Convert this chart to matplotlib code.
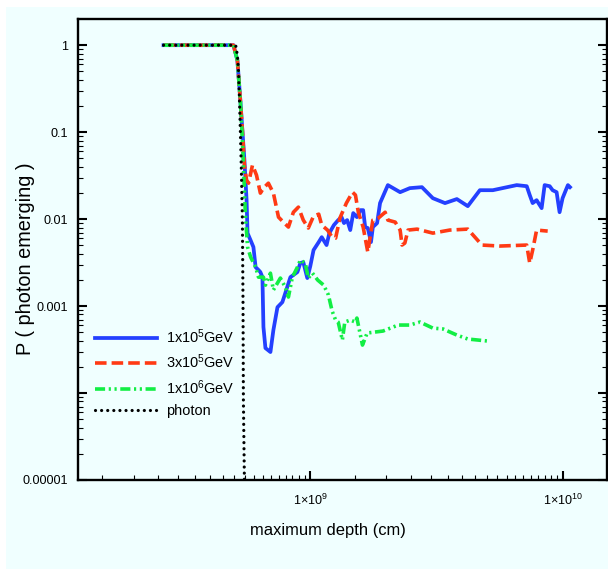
import matplotlib
matplotlib.use("Agg")
import matplotlib.pyplot as plt
from matplotlib import font_manager
from matplotlib.patches import Rectangle
from matplotlib.ticker import FixedLocator, FixedFormatter
import numpy as np

# values (depth in cm, probability)
depth_1e5 = [2.62e8, 4.96e8, 5.14e8, 5.28e8, 5.38e8, 5.48e8, 5.59e8, 5.64e8, 5.80e8, 5.95e8,
             6.07e8, 6.23e8, 6.34e8, 6.46e8, 6.52e8, 6.64e8, 6.95e8, 7.14e8, 7.41e8, 7.75e8,
             7.96e8, 8.34e8, 8.89e8, 9.13e8, 9.38e8, 9.73e8, 1.00e9, 1.03e9, 1.08e9, 1.11e9,
             1.16e9, 1.19e9, 1.24e9, 1.29e9, 1.33e9, 1.36e9, 1.40e9, 1.44e9, 1.48e9, 1.53e9,
             1.58e9, 1.62e9, 1.65e9, 1.69e9, 1.74e9, 1.77e9, 1.84e9, 1.89e9, 2.03e9, 2.27e9,
             2.48e9, 2.77e9, 3.06e9, 3.42e9, 3.81e9, 4.21e9, 4.70e9, 5.29e9, 6.58e9, 7.21e9,
             7.41e9, 7.61e9, 7.89e9, 8.26e9, 8.49e9, 8.89e9, 9.13e9, 9.47e9, 9.73e9, 1.00e10,
             1.03e10, 1.05e10, 1.07e10]
p_1e5 = [1, 1, 0.67, 0.233, 0.105, 0.048, 0.0165, 0.0069, 0.0057, 0.00477,
         0.0028, 0.0026, 0.00246, 0.00215, 0.000574, 0.000329, 0.000296, 0.00053, 0.00097, 0.00111,
         0.00141, 0.00215, 0.00246, 0.00312, 0.0032, 0.0021, 0.00288, 0.0044, 0.00544, 0.0062,
         0.00503, 0.0069, 0.00853, 0.00974, 0.01054, 0.009, 0.00974, 0.00748, 0.01172, 0.01054,
         0.01268, 0.01268, 0.0081, 0.00789, 0.00544, 0.0081, 0.009, 0.01528, 0.0246, 0.0204,
         0.0227, 0.0233, 0.0174, 0.01528, 0.017, 0.0141, 0.0215, 0.0215, 0.0246, 0.0239,
         0.0189, 0.01528, 0.0165, 0.01337, 0.0246, 0.0239, 0.0215, 0.0204, 0.012, 0.0174,
         0.0215, 0.0246, 0.0233]

depth_3e5 = [2.62e8, 4.96e8, 5.14e8, 5.28e8, 5.38e8, 5.48e8, 5.59e8, 5.69e8, 5.90e8, 6.12e8,
             6.34e8, 6.52e8, 6.82e8, 7.14e8, 7.48e8, 7.82e8, 8.19e8, 8.57e8, 8.97e8, 9.38e8,
             9.82e8, 1.03e9, 1.08e9, 1.11e9, 1.17e9, 1.22e9, 1.26e9, 1.31e9, 1.39e9, 1.47e9,
             1.51e9, 1.55e9, 1.62e9, 1.69e9, 1.77e9, 1.86e9, 1.98e9, 2.03e9, 2.17e9, 2.27e9,
             2.31e9, 2.37e9, 2.44e9, 2.65e9, 3.06e9, 3.57e9, 4.21e9, 4.79e9, 5.64e9, 7.21e9,
             7.41e9, 7.61e9, 7.89e9, 8.73e9]
p_3e5 = [1, 1, 0.67, 0.233, 0.105, 0.0418, 0.0281, 0.0259, 0.0418, 0.032,
         0.0199, 0.0227, 0.0259, 0.0199, 0.01054, 0.00924, 0.0081, 0.012, 0.01374, 0.00974,
         0.00789, 0.01082, 0.0114, 0.00853, 0.00748, 0.0062, 0.00605, 0.01026, 0.01528, 0.0204,
         0.0189, 0.012, 0.0081, 0.00418, 0.00974, 0.01026, 0.012, 0.00974, 0.00924, 0.00748,
         0.00503, 0.0053, 0.00748, 0.00767, 0.0069, 0.00748, 0.00767, 0.00503, 0.0049, 0.00503,
         0.00312, 0.0044, 0.00748, 0.00728]

depth_1e6 = [2.62e8, 4.96e8, 5.14e8, 5.28e8, 5.38e8, 5.48e8, 5.53e8, 5.64e8, 5.80e8, 6.07e8,
             6.23e8, 6.52e8, 6.64e8, 6.95e8, 7.14e8, 7.61e8, 7.96e8, 8.19e8, 8.49e8, 8.89e8,
             9.13e8, 9.55e8, 9.82e8, 1.02e9, 1.07e9, 1.13e9, 1.18e9, 1.22e9, 1.26e9, 1.29e9,
             1.34e9, 1.37e9, 1.44e9, 1.51e9, 1.53e9, 1.61e9, 1.68e9, 1.94e9, 2.23e9, 2.48e9,
             2.72e9, 3.06e9, 3.36e9, 3.81e9, 4.21e9, 5.06e9]
p_1e6 = [1, 1, 0.67, 0.233, 0.081, 0.0215, 0.0111, 0.00477, 0.00366, 0.0028,
         0.00215, 0.00215, 0.00174, 0.00239, 0.00153, 0.0021, 0.00165, 0.00127, 0.00215, 0.0028,
         0.00338, 0.00312, 0.0021, 0.00239, 0.00199, 0.00174, 0.00134, 0.00088, 0.00069, 0.000655,
         0.000407, 0.000655, 0.00069, 0.000655, 0.000728, 0.000356, 0.00049, 0.000516, 0.000605, 0.000605,
         0.000655, 0.000558, 0.000545, 0.000464, 0.000418, 0.000396]

depth_photon = [2.62e8, 5.06e8, 5.14e8, 5.19e8, 5.24e8, 5.28e8, 5.33e8, 5.38e8, 5.41e8, 5.43e8, 5.48e8, 5.50e8]
p_photon = [1, 1, 0.767, 0.516, 0.233, 0.105, 0.0366, 0.00974, 0.0012, 8.3e-5, 1e-5, 1e-6]

labels = [r"$\mathregular{1x10^{5}GeV}$", r"$\mathregular{3x10^{5}GeV}$",
          r"$\mathregular{1x10^{6}GeV}$", "photon"]
y_ticks = [1e-5, 1e-4, 1e-3, 1e-2, 1e-1, 1]
y_ticklabels = ["0.00001", "", "0.001", "0.01", "0.1", "1"]
x_ticks = [1e9, 1e10]
x_ticklabels = [r"$\mathregular{1{\times}10^{9}}$", r"$\mathregular{1{\times}10^{10}}$"]

# narrow Helvetica look if the narrow face is around
names = {f.name for f in font_manager.fontManager.ttflist}
if "Liberation Sans Narrow" in names:
    NARROW, k = "Liberation Sans Narrow", 1.0
else:
    NARROW, k = "Liberation Sans", 0.87
plt.rcParams["font.family"] = [NARROW, "DejaVu Sans"]
plt.rcParams["mathtext.fontset"] = "custom"
plt.rcParams["mathtext.rm"] = NARROW
BG = "#f0ffff"

W, H = 608, 569
fig = plt.figure(figsize=(W / 100, H / 100), dpi=100)
fig.patch.set_facecolor("white")
fig.patches.append(Rectangle((6 / W, 0), 1, 1 - 7 / H, transform=fig.transFigure,
                             facecolor=BG, edgecolor="none", zorder=-10))
ax = fig.add_axes([78 / W, 1 - 480 / H, 529 / W, 461 / H])
ax.set_facecolor(BG)

ax.plot(depth_1e5, p_1e5, color="#2440ff", lw=2.7, label=labels[0])
ax.plot(depth_3e5, p_3e5, color="#ff3a14", lw=2.6, ls=(0, (3.2, 1.4)), label=labels[1])
ax.plot(depth_1e6, p_1e6, color="#12ee44", lw=2.6, ls=(0, (2.8, 1.0, 0.6, 1.0, 0.6, 1.0)),
        label=labels[2])
ax.plot(depth_photon, p_photon, color="black", lw=2.3, ls=(0, (0.01, 1.9)),
        dash_capstyle="round", label=labels[3])

ax.set_xscale("log"); ax.set_yscale("log")
ax.set_xlim(1.2e8, 1.5e10); ax.set_ylim(1e-5, 2)

ax.xaxis.set_major_locator(FixedLocator(x_ticks))
ax.xaxis.set_major_formatter(FixedFormatter(x_ticklabels))
ax.xaxis.set_minor_locator(FixedLocator(np.r_[np.arange(1.5e8, 9.6e8, 0.5e8),
                                              np.arange(1.5e9, 9.6e9, 0.5e9)]))
ax.yaxis.set_major_locator(FixedLocator(y_ticks))
ax.yaxis.set_major_formatter(FixedFormatter(y_ticklabels))
ax.yaxis.set_minor_locator(FixedLocator([m * 10.0 ** e for e in range(-5, 0) for m in range(2, 10)]))
ax.xaxis.set_minor_formatter(FixedFormatter([]))
ax.yaxis.set_minor_formatter(FixedFormatter([]))

ax.tick_params(which="both", direction="in", right=True, top=False)
ax.tick_params(which="major", length=6.5, width=1.5)
ax.tick_params(which="minor", length=3.6, width=0.8)
ax.tick_params(axis="y", which="major", pad=7, labelsize=10.5 * k)
ax.tick_params(axis="x", which="major", pad=9, labelsize=10.5 * k)
for s in ax.spines.values():
    s.set_linewidth(1.7)

fig.text(328 / W, 1 - 530 / H, "maximum depth (cm)", ha="center", va="center", fontsize=13.7 * k)
fig.text(26 / W, 1 - 259 / H, "P ( photon emerging )", rotation=90, ha="center", va="center",
         fontsize=14.3, family="Liberation Sans")

ax.legend(loc="upper left", bbox_to_anchor=(0.032, 0.331), frameon=False, fontsize=12 * k,
          handlelength=4.3, handletextpad=0.6, labelspacing=0.47, borderpad=0, borderaxespad=0)

fig.savefig("out.png", dpi=100, facecolor=fig.get_facecolor())
